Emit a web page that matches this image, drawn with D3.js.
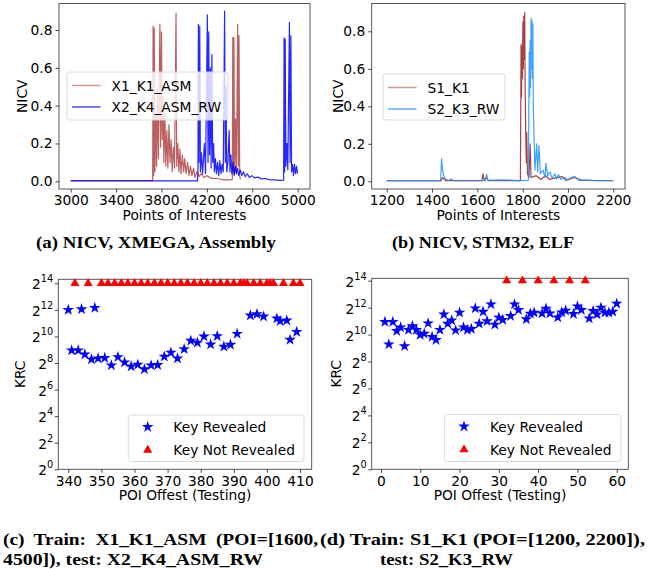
<!DOCTYPE html>
<html>
<head>
<meta charset="utf-8">
<script src="https://cdn.jsdelivr.net/npm/d3@7"></script>
<style>
  body { margin: 0; background: #fff; }
  svg text { font-family: "DejaVu Sans", sans-serif; fill: #000; }
  svg text.cap { font-family: "Liberation Serif", serif; font-weight: bold; font-size: 17px; }
</style>
</head>
<body>
<svg id="fig" width="650" height="569"></svg>
<script>
// (a) NICV traces, XMEGA assembly  [poi, nicv]
const x1K1Asm = [[3000,0.004],[3722,0.004],[3726,0.82],[3731,0.03],[3736,0.81],[3742,0.05],[3750,0.35],[3757,0.08],[3765,0.5],[3773,0.12],[3786,0.83],[3792,0.18],[3800,0.79],[3806,0.22],[3814,0.45],[3821,0.1],[3830,0.36],[3838,0.08],[3847,0.27],[3856,0.07],[3866,0.3],[3875,0.1],[3885,0.22],[3894,0.05],[3905,0.18],[3915,0.07],[3928,0.89],[3934,0.08],[3944,0.2],[3953,0.05],[3963,0.17],[3972,0.04],[3984,0.14],[3995,0.05],[4005,0.12],[4016,0.04],[4030,0.1],[4042,0.03],[4055,0.08],[4068,0.03],[4082,0.07],[4095,0.02],[4110,0.05],[4130,0.025],[4150,0.04],[4175,0.02],[4200,0.03],[4240,0.015],[4290,0.015],[4340,0.008],[4400,0.008],[4424,0.01],[4428,0.76],[4433,0.05],[4438,0.76],[4444,0.04],[4452,0.33],[4460,0.04],[4471,0.83],[4477,0.08],[4483,0.77],[4489,0.03],[4495,0.01]];
const x2K4AsmRw = [[3000,0.002],[4116,0.002],[4121,0.04],[4125,0.83],[4130,0.1],[4137,0.82],[4143,0.05],[4152,0.15],[4162,0.04],[4178,0.2],[4188,0.04],[4204,0.88],[4210,0.1],[4216,0.79],[4223,0.14],[4230,0.6],[4237,0.07],[4244,0.67],[4251,0.1],[4259,0.2],[4266,0.05],[4275,0.12],[4284,0.04],[4294,0.1],[4304,0.03],[4314,0.11],[4324,0.04],[4334,0.09],[4344,0.05],[4356,0.9],[4362,0.1],[4368,0.5],[4375,0.05],[4385,0.1],[4396,0.27],[4403,0.05],[4411,0.14],[4420,0.04],[4430,0.1],[4440,0.03],[4450,0.08],[4460,0.04],[4470,0.07],[4480,0.03],[4494,0.06],[4508,0.03],[4522,0.05],[4538,0.025],[4556,0.04],[4575,0.02],[4597,0.03],[4620,0.018],[4650,0.022],[4680,0.012],[4715,0.015],[4750,0.009],[4790,0.008],[4840,0.005],[4876,0.006],[4880,0.76],[4885,0.05],[4890,0.75],[4896,0.08],[4905,0.2],[4913,0.06],[4927,0.84],[4933,0.1],[4940,0.77],[4946,0.05],[4955,0.09],[4963,0.03],[4972,0.09],[4981,0.04],[4990,0.08],[4998,0.04]];

// (b) NICV traces, STM32 ELF
const s1K1 = [[1200,0.003],[1440,0.003],[1446,0.02],[1460,0.004],[1620,0.004],[1625,0.04],[1630,0.005],[1640,0.02],[1648,0.004],[1790,0.004],[1793,0.73],[1795,0.45],[1797,0.72],[1799,0.55],[1801,0.85],[1803,0.6],[1805,0.88],[1807,0.65],[1809,0.9],[1811,0.5],[1813,0.3],[1816,0.1],[1818,0.26],[1821,0.04],[1828,0.02],[1833,0.2],[1837,0.02],[1860,0.03],[1880,0.01],[1900,0.03],[1920,0.01],[1950,0.02],[1975,0.025],[1990,0.005],[2030,0.02],[2060,0.005],[2200,0.003]];
const s2K3Rw = [[1200,0.002],[1438,0.002],[1442,0.12],[1447,0.06],[1452,0.03],[1460,0.01],[1475,0.004],[1485,0.012],[1495,0.003],[1635,0.003],[1641,0.037],[1646,0.005],[1700,0.008],[1780,0.004],[1825,0.005],[1829,0.69],[1831,0.45],[1833,0.75],[1835,0.5],[1837,0.87],[1839,0.6],[1841,0.86],[1843,0.55],[1845,0.84],[1847,0.4],[1849,0.3],[1854,0.06],[1862,0.2],[1866,0.05],[1872,0.19],[1878,0.04],[1890,0.06],[1898,0.02],[1903,0.096],[1910,0.03],[1921,0.05],[1930,0.015],[1942,0.04],[1950,0.012],[1958,0.035],[1970,0.01],[1985,0.02],[2000,0.008],[2015,0.02],[2030,0.026],[2045,0.006],[2080,0.008],[2120,0.004],[2200,0.003]];

// (c) key rank, train X1_K1_ASM / test X2_K4_ASM_RW  (log2 KRC)
const revealedC = [[340,12.0],[344,12.05],[348,12.15],[341,8.95],[343,8.95],[345,8.65],[347,8.28],[349,8.35],[351,8.38],[353,7.83],[355,8.45],[357,8.05],[359,7.75],[361,7.88],[363,7.53],[365,7.83],[367,7.85],[369,8.48],[371,8.78],[373,8.35],[375,9.05],[377,9.68],[379,9.53],[381,10.0],[383,9.4],[385,10.03],[387,9.23],[389,9.38],[391,10.2],[395,11.58],[397,11.68],[399,11.5],[403,11.35],[404,11.15],[406,11.2],[407,9.75],[409,10.35]];
const notRevealedC = [342,346,350,352,354,356,358,360,362,364,366,368,370,372,374,376,378,380,382,384,386,388,390,392,393,394,396,398,400,401,402,405,408,410];

// (d) key rank, train S1_K1 / test S2_K3_RW  (log2 KRC)
const revealedD = [[1,10.94],[2,9.28],[3,10.94],[4,10.27],[5,10.54],[6,9.14],[7,10.35],[8,10.62],[9,10.35],[10,9.98],[11,10.07],[12,10.84],[13,9.83],[14,9.6],[15,10.35],[16,11.5],[17,10.81],[18,11.06],[19,10.32],[20,11.63],[21,10.54],[22,10.35],[23,10.42],[24,11.95],[25,10.81],[26,11.7],[27,11.0],[28,12.25],[29,10.74],[30,11.26],[31,11.09],[33,11.38],[34,12.25],[35,11.83],[37,11.14],[38,11.56],[39,11.63],[41,11.58],[42,11.93],[43,11.58],[45,11.28],[46,11.65],[47,11.78],[49,11.53],[50,12.1],[51,11.83],[53,11.2],[54,11.75],[55,11.5],[56,12.0],[57,11.63],[58,11.63],[59,11.7],[60,12.3]];
const notRevealedD = [32,36,40,44,48,52];

const nicvTicks = [0, 0.2, 0.4, 0.6, 0.8];
const krcTicks = [0, 2, 4, 6, 8, 10, 12, 14];

const svg = d3.select('#fig');
const FS = 13.8;

function frame(box) {
    svg.append('rect')
        .attr('x', box.l).attr('y', box.t)
        .attr('width', box.r - box.l).attr('height', box.b - box.t)
        .attr('fill', 'none').attr('stroke', '#444').attr('stroke-width', 0.9);
}

function xAxis(box, x, ticks, fmt, label) {
    const g = svg.append('g').attr('transform', `translate(0,${box.b})`)
        .call(d3.axisBottom(x).tickValues(ticks).tickFormat(fmt).tickSize(3.5).tickPadding(3));
    g.select('.domain').remove();
    g.selectAll('line').attr('stroke', '#444');
    g.selectAll('text').style('font-size', FS + 'px').attr('fill', '#000');
    svg.append('text').attr('x', (box.l + box.r) / 2).attr('y', box.b + 31)
        .attr('text-anchor', 'middle').style('font-size', FS + 'px').text(label);
}

function yAxisNicv(box, y, labelX) {
    const g = svg.append('g').attr('transform', `translate(${box.l},0)`)
        .call(d3.axisLeft(y).tickValues(nicvTicks).tickFormat(d3.format('.1f')).tickSize(3.5).tickPadding(3));
    g.select('.domain').remove();
    g.selectAll('line').attr('stroke', '#444');
    g.selectAll('text').style('font-size', FS + 'px').attr('fill', '#000');
    svg.append('text').attr('transform', `translate(${labelX},${(box.t + box.b) / 2}) rotate(-90)`)
        .attr('text-anchor', 'middle').style('font-size', FS + 'px').text('NICV');
}

function yAxisKrc(box, y, labelX) {
    const g = svg.append('g').attr('transform', `translate(${box.l},0)`)
        .call(d3.axisLeft(y).tickValues(krcTicks).tickFormat('').tickSize(3.5));
    g.select('.domain').remove();
    g.selectAll('line').attr('stroke', '#444');
    krcTicks.forEach(e => {
        const t = svg.append('text').attr('x', box.l - 5).attr('y', y(e) + 6)
            .attr('text-anchor', 'end').style('font-size', FS + 'px');
        t.append('tspan').text('2');
        t.append('tspan').attr('dy', -7).style('font-size', '9.8px').text(e);
    });
    svg.append('text').attr('transform', `translate(${labelX},${(box.t + box.b) / 2}) rotate(-90)`)
        .attr('text-anchor', 'middle').style('font-size', FS + 'px').text('KRC');
}

function trace(data, x, y, color, op) {
    const line = d3.line().x(d => x(d[0])).y(d => y(d[1]));
    svg.append('path').datum(data).attr('d', line)
        .attr('fill', 'none').attr('stroke', color).attr('stroke-opacity', op)
        .attr('stroke-width', 1.2).attr('stroke-linejoin', 'round');
}

function legendBox(x, y, w, h) {
    svg.append('rect').attr('x', x).attr('y', y).attr('width', w).attr('height', h)
        .attr('rx', 3).attr('fill', '#fff').attr('fill-opacity', 0.8)
        .attr('stroke', '#d6d6d6').attr('stroke-width', 0.9);
}

function lineLegend(x, y, w, h, items) {
    legendBox(x, y, w, h);
    items.forEach((it, i) => {
        const cy = y + 13.5 + i * 21.5;
        svg.append('line').attr('x1', x + 5).attr('x2', x + 33.5).attr('y1', cy).attr('y2', cy)
            .attr('stroke', it.color).attr('stroke-opacity', it.op).attr('stroke-width', 1.5);
        svg.append('text').attr('x', x + 44.5).attr('y', cy + 5)
            .style('font-size', FS + 'px').text(it.name);
    });
}

const star = d3.symbol().type(d3.symbolStar).size(42);
const tri = d3.symbol().type(d3.symbolTriangle).size(36);

function markerLegend(x, y, w, h, mx, tx) {
    legendBox(x, y, w, h);
    svg.append('path').attr('d', star).attr('transform', `translate(${mx},${y + 12})`).attr('fill', '#0000ff');
    svg.append('path').attr('d', tri).attr('transform', `translate(${mx},${y + 35})`).attr('fill', '#ff0000');
    svg.append('text').attr('x', tx).attr('y', y + 17).style('font-size', FS + 'px').text('Key Revealed');
    svg.append('text').attr('x', tx).attr('y', y + 40).style('font-size', FS + 'px').text('Key Not Revealed');
}

// ---- panel (a)
{
    const box = {l: 59, r: 310, t: 3.5, b: 189};
    const x = d3.scaleLinear().domain([3000, 5000]).range([70.7, 297.7]);
    const y = d3.scaleLinear().domain([0, 0.8]).range([181.3, 30]);
    trace(x1K1Asm, x, y, '#a52a2a', 0.75);
    trace(x2K4AsmRw, x, y, '#0000ff', 0.85);
    frame(box);
    xAxis(box, x, [3000, 3400, 3800, 4200, 4600, 5000], d3.format('d'), 'Points of Interests');
    yAxisNicv(box, y, 26.5);
    lineLegend(67, 72, 161, 48, [
        {name: 'X1_K1_ASM', color: '#a52a2a', op: 0.5},
        {name: 'X2_K4_ASM_RW', color: '#0000ff', op: 0.7}
    ]);
}

// ---- panel (b)
{
    const box = {l: 371.7, r: 625, t: 3.5, b: 189};
    const x = d3.scaleLinear().domain([1200, 2200]).range([386.7, 613.3]);
    const y = d3.scaleLinear().domain([0, 0.8]).range([181.3, 31.3]);
    trace(s1K1, x, y, '#8b0000', 0.75);
    trace(s2K3Rw, x, y, '#1e90ff', 0.85);
    frame(box);
    xAxis(box, x, d3.range(1200, 2201, 200), d3.format('d'), 'Points of Interests');
    yAxisNicv(box, y, 343);
    lineLegend(383, 74, 122, 46, [
        {name: 'S1_K1', color: '#8b0000', op: 0.4},
        {name: 'S2_K3_RW', color: '#1e90ff', op: 0.7}
    ]);
}

// ---- panel (c)
{
    const box = {l: 58.3, r: 311.7, t: 279.3, b: 469.3};
    const x = d3.scaleLinear().domain([340, 410]).range([68.3, 300]);
    const y = d3.scaleLinear().domain([0, 14]).range([469.3, 283.3]);
    frame(box);
    svg.append('g').selectAll('path').data(notRevealedC).join('path')
        .attr('d', tri).attr('transform', d => `translate(${x(d)},${y(14)})`).attr('fill', '#ff0000');
    svg.append('g').selectAll('path').data(revealedC).join('path')
        .attr('d', star).attr('transform', d => `translate(${x(d[0])},${y(d[1])})`).attr('fill', '#0000ff');
    xAxis(box, x, d3.range(340, 411, 10), d3.format('d'), 'POI Offest (Testing)');
    yAxisKrc(box, y, 25);
    markerLegend(128.3, 415, 175.7, 46.5, 147.7, 173.3);
}

// ---- panel (d)
{
    const box = {l: 371.7, r: 628.3, t: 278.3, b: 469.3};
    const x = d3.scaleLinear().domain([0, 60]).range([381, 616.7]);
    const y = d3.scaleLinear().domain([0, 14]).range([469.3, 280.7]);
    frame(box);
    svg.append('g').selectAll('path').data(notRevealedD).join('path')
        .attr('d', tri).attr('transform', d => `translate(${x(d)},${y(14)})`).attr('fill', '#ff0000');
    svg.append('g').selectAll('path').data(revealedD).join('path')
        .attr('d', star).attr('transform', d => `translate(${x(d[0])},${y(d[1])})`).attr('fill', '#0000ff');
    xAxis(box, x, d3.range(0, 61, 10), d3.format('d'), 'POI Offest (Testing)');
    yAxisKrc(box, y, 340.5);
    markerLegend(444.3, 414.5, 176.7, 47, 464, 490);
}

// ---- captions (ws = extra word spacing of a justified line, w = line width)
const captions = [
    {x: 36, y: 248, w: 240, t: '(a) NICV, XMEGA, Assembly'},
    {x: 392, y: 248, w: 182, t: '(b) NICV, STM32, ELF'},
    {x: 3, y: 545, w: 315, ws: 4, t: '(c) Train: X1_K1_ASM (POI=[1600,'},
    {x: 320, y: 545, w: 325, t: '(d) Train: S1_K1 (POI=[1200, 2200]),'},
    {x: 3, y: 564.5, w: 260, t: '4500]), test: X2_K4_ASM_RW'},
    {x: 380, y: 564.5, w: 133, t: 'test: S2_K3_RW'}
];
svg.append('g').selectAll('text').data(captions).join('text')
    .attr('class', 'cap')
    .attr('x', d => d.x).attr('y', d => d.y)
    .style('word-spacing', d => (d.ws || 0) + 'px')
    .attr('textLength', d => d.w).attr('lengthAdjust', 'spacingAndGlyphs')
    .text(d => d.t);
</script>
</body>
</html>
